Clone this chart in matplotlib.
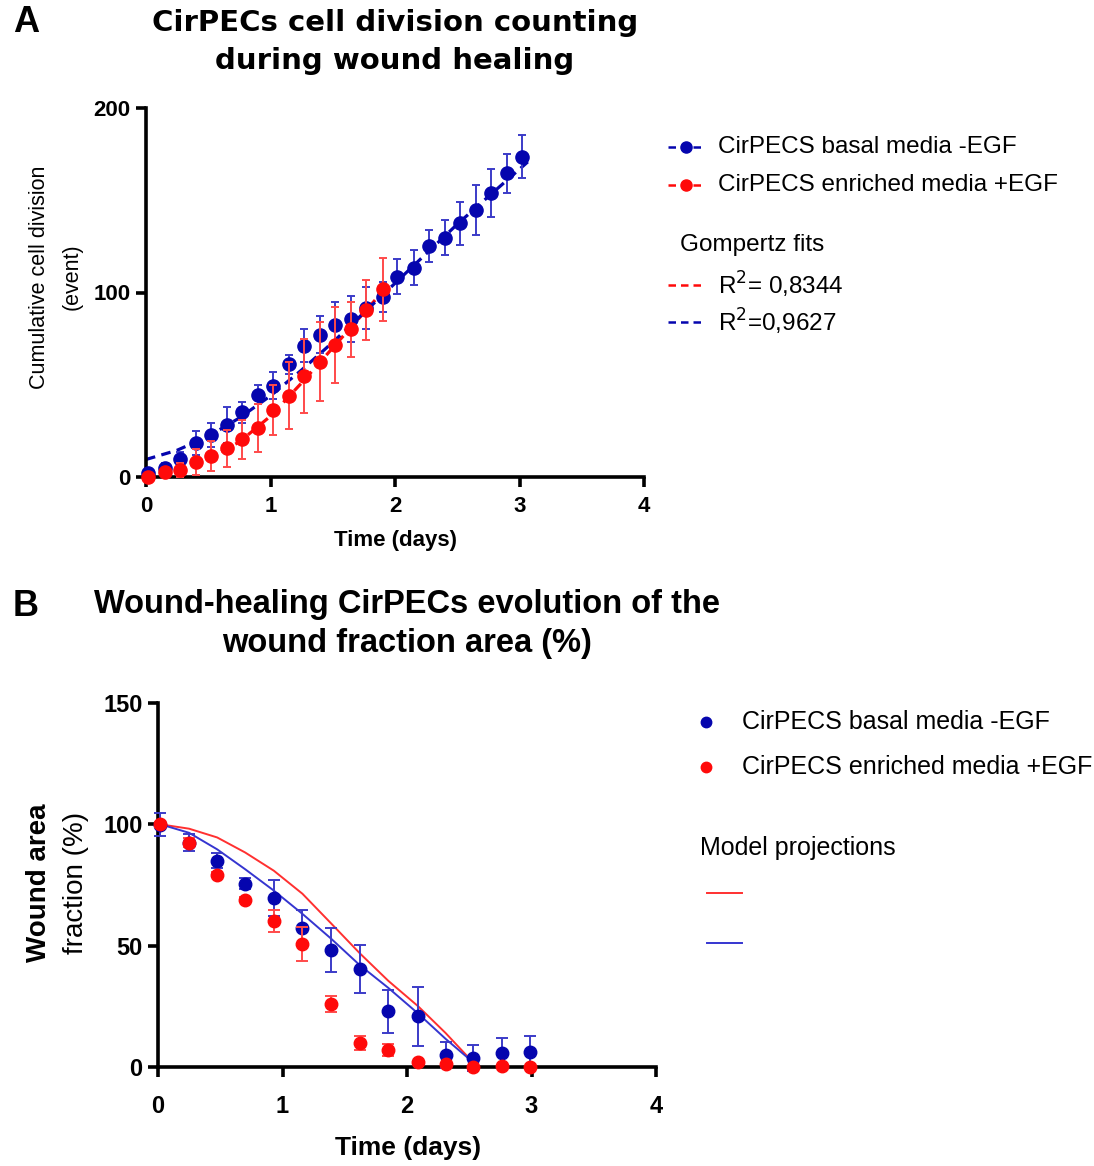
import matplotlib
matplotlib.use("Agg")
import matplotlib.pyplot as plt
from matplotlib.lines import Line2D

plt.rcParams['font.family'] = ['Liberation Sans', 'DejaVu Sans']

# ---- panel A : cumulative cell division ----
time_a = [0.02, 0.15, 0.27, 0.4, 0.52, 0.65, 0.77, 0.9, 1.02, 1.15, 1.27, 1.4, 1.52,
          1.65, 1.77, 1.9, 2.02, 2.15, 2.27, 2.4, 2.52, 2.65, 2.77, 2.9, 3.02]
basal_a = [2, 4.7, 9.8, 18.3, 22.8, 28.2, 35.1, 44.6, 49.5, 61.0, 71.2, 77.0, 82.4,
           85.5, 91.5, 97.7, 108.6, 113.5, 125.4, 129.8, 137.5, 144.7, 153.8, 164.6, 173.6]
basal_a_err = [2, 3, 4, 6.5, 6.3, 10, 5.8, 5.2, 7.2, 5, 8.9, 10, 12.6,
               12.6, 11.3, 8, 9.5, 9.5, 8.7, 9.6, 11.6, 13.4, 13, 10.7, 11.6]
enriched_a = [0, 2.6, 3.8, 8.3, 11.4, 15.5, 20.4, 26.4, 36.3, 44.1, 54.7, 62.5, 71.5,
              80.0, 90.5, 101.7]
enriched_a_err = [1, 2, 4, 7, 8.3, 10.2, 10.5, 13, 13.4, 18, 20, 21.5, 20.5, 14.9, 16.3, 17.2]

# Gompertz fits
fit_t_basal = [0, 0.25, 0.5, 0.75, 1.0, 1.25, 1.5, 1.75, 2.0, 2.25, 2.5, 2.75, 3.07]
fit_basal = [9.5, 14.5, 22, 32, 44, 58, 73, 89, 105, 121, 137, 152, 171]
fit_t_enriched = [0, 0.25, 0.5, 0.75, 1.0, 1.25, 1.5, 1.75, 1.92]
fit_enriched = [0, 3.5, 10, 19, 33, 51, 70, 89, 102]

# ---- panel B : wound area fraction ----
time_b = [0.02, 0.25, 0.475, 0.70, 0.93, 1.16, 1.39, 1.62, 1.85, 2.09, 2.31, 2.53, 2.76, 2.99]
basal_b = [99.9, 92.5, 85, 75.6, 69.7, 57.2, 48.3, 40.4, 22.9, 20.9, 4.9, 3.8, 5.6, 6.3]
basal_b_err = [4.6, 3.5, 3, 2.2, 7.5, 7.5, 9, 9.7, 8.8, 12.2, 5.4, 5.4, 6.2, 6.4]
enriched_b = [100, 92.5, 79.3, 68.9, 60, 50.8, 25.9, 9.9, 7.1, 2.0, 1.1, 0, 0.3, 0]
enriched_b_err = [1, 2, 1, 1, 4.5, 7, 3.2, 3, 2.5, 0.5, 0.5, 0.3, 0.3, 0.3]

model_t = [0.02, 0.25, 0.475, 0.70, 0.93, 1.16, 1.39, 1.62, 1.85, 2.09, 2.31, 2.52]
model_basal = [100, 96.5, 89.7, 81.5, 72.7, 63.1, 52.9, 42, 32.6, 22, 11.6, 2.4]
model_enriched = [100, 98.2, 94.6, 88.4, 80.9, 71.4, 59.2, 46.9, 35.5, 25, 14, 2.5]

BLUE = '#0505AE'
BLUE_ERR = '#3B3BC8'
RED = '#FF0A0A'
RED_ERR = '#FF4A4A'

W, H = 1094, 1166
fig = plt.figure(figsize=(W / 100, H / 100), dpi=100)


def fx(px):
    return px / W


def fy(py):
    return 1 - py / H


def style_axes(ax, lw, tick_size, pad):
    for s in ['top', 'right']:
        ax.spines[s].set_visible(False)
    for s in ['left', 'bottom']:
        ax.spines[s].set_linewidth(lw)
    ax.tick_params(width=lw, length=7, direction='out', labelsize=tick_size, pad=4)
    ax.tick_params(axis='x', pad=pad)
    for lab in ax.get_xticklabels() + ax.get_yticklabels():
        lab.set_fontweight('bold')


# Panel A axes
axA = fig.add_axes([fx(146), fy(477), fx(644) - fx(146), fy(108) - fy(477)])
axA.plot(fit_t_enriched, fit_enriched, '--', color=RED, lw=2.3, dashes=(3, 2), zorder=2)
axA.plot(fit_t_basal, fit_basal, '--', color=BLUE, lw=2.3, dashes=(3, 2), zorder=2)
axA.errorbar(time_a, basal_a, yerr=basal_a_err, fmt='o', color=BLUE, ecolor=BLUE_ERR,
             elinewidth=1.4, capsize=3, capthick=1.4, markersize=9.5, clip_on=False, zorder=3)
axA.errorbar(time_a[:len(enriched_a)], enriched_a, yerr=enriched_a_err, fmt='o', color=RED,
             ecolor=RED_ERR, elinewidth=1.4, capsize=3, capthick=1.4, markersize=9.5,
             clip_on=False, zorder=4)
axA.set_xlim(0, 4)
axA.set_ylim(0, 200)
axA.set_xticks([0, 1, 2, 3, 4])
axA.set_yticks([0, 100, 200])
style_axes(axA, 2.6, 16, 7)

# Panel B axes
axB = fig.add_axes([fx(158), fy(1067), fx(656) - fx(158), fy(703) - fy(1067)])
axB.plot(model_t, model_enriched, '-', color='#FF3030', lw=1.4, zorder=2)
axB.plot(model_t, model_basal, '-', color='#3535D0', lw=1.4, zorder=2)
axB.errorbar(time_b, basal_b, yerr=basal_b_err, fmt='o', color=BLUE, ecolor=BLUE_ERR,
             elinewidth=1.4, capsize=4, capthick=1.4, markersize=9, clip_on=False, zorder=3)
axB.errorbar(time_b, enriched_b, yerr=enriched_b_err, fmt='o', color=RED, ecolor=RED_ERR,
             elinewidth=1.4, capsize=4, capthick=1.4, markersize=9, clip_on=False, zorder=4)
axB.set_xlim(0, 4)
axB.set_ylim(0, 150)
axB.set_xticks([0, 1, 2, 3, 4])
axB.set_yticks([0, 50, 100, 150])
style_axes(axB, 2.6, 17, 13)

# panel letters and titles
fig.text(fx(26), fy(22), 'A', fontsize=26, fontweight='bold', ha='center', va='center')
fig.text(fx(26), fy(606), 'B', fontsize=26, fontweight='bold', ha='center', va='center')
fig.text(fx(395), fy(42), 'CirPECs cell division counting\nduring wound healing',
         family='DejaVu Sans', fontsize=21, fontweight='bold', ha='center', va='center',
         linespacing=1.42)
fig.text(fx(407), fy(624), 'Wound-healing CirPECs evolution of the\nwound fraction area (%)',
         fontsize=23.5, fontweight='bold', ha='center', va='center', linespacing=1.34)

# axis labels
fig.text(fx(40), fy(277), 'Cumulative cell division', fontsize=15.5, rotation=90,
         ha='center', va='center')
fig.text(fx(72), fy(277), '(event)', fontsize=15.5, rotation=90, ha='center', va='center')
fig.text(fx(395), fy(540), 'Time (days)', fontsize=16, fontweight='bold', ha='center', va='center')
fig.text(fx(39), fy(883), 'Wound area', fontsize=20, fontweight='bold', rotation=90,
         ha='center', va='center')
fig.text(fx(76), fy(883), 'fraction (%)', fontsize=20, rotation=90, ha='center', va='center')
fig.text(fx(408), fy(1148), 'Time (days)', fontsize=19, fontweight='bold', ha='center', va='center')

# legend panel A
legA = [(147, BLUE, 'o', 'CirPECS basal media -EGF'),
        (185, RED, 'o', 'CirPECS enriched media +EGF')]
for y, c, m, lab in legA:
    fig.add_artist(Line2D([fx(668), fx(705)], [fy(y), fy(y)], transform=fig.transFigure,
                          color=c, ls=(0, (3, 2)), lw=1.8))
    fig.add_artist(Line2D([fx(686)], [fy(y)], transform=fig.transFigure, color=c, marker=m,
                          markersize=8, ls='none'))
    fig.text(fx(718), fy(y), lab, fontsize=17.5, ha='left', va='center')
fig.text(fx(680), fy(245), 'Gompertz fits', fontsize=17.5, ha='left', va='center')
for y, c, lab in [(285, RED, 'R$^2$= 0,8344'), (322, BLUE, 'R$^2$=0,9627')]:
    fig.add_artist(Line2D([fx(668), fx(705)], [fy(y), fy(y)], transform=fig.transFigure,
                          color=c, ls=(0, (3, 2)), lw=1.8))
    fig.text(fx(718), fy(y), lab, fontsize=17.5, ha='left', va='center')

# legend panel B
for y, c, lab in [(722, BLUE, 'CirPECS basal media -EGF'),
                  (767, RED, 'CirPECS enriched media +EGF')]:
    fig.add_artist(Line2D([fx(706)], [fy(y)], transform=fig.transFigure, color=c, marker='o',
                          markersize=7.5, ls='none'))
    fig.text(fx(742), fy(y), lab, fontsize=18, ha='left', va='center')
fig.text(fx(700), fy(848), 'Model projections', fontsize=18, ha='left', va='center')
for y, c in [(893, '#FF3030'), (943, '#3535D0')]:
    fig.add_artist(Line2D([fx(707), fx(742)], [fy(y), fy(y)], transform=fig.transFigure,
                          color=c, lw=1.4))

fig.savefig('out.png', dpi=100)
